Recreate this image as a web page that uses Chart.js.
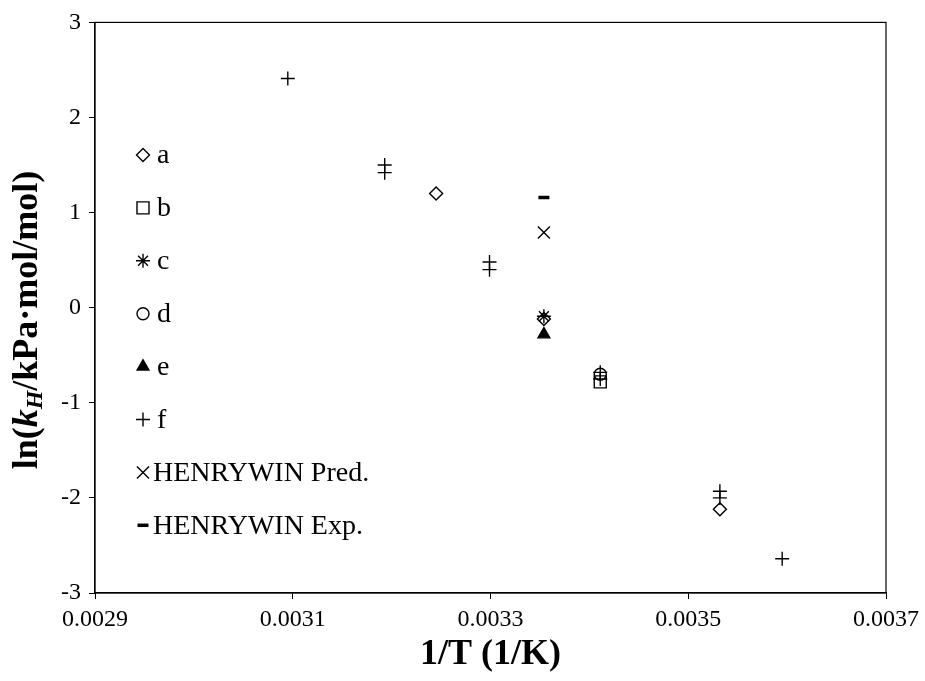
<!DOCTYPE html>
<html>
<head>
<meta charset="utf-8">
<script src="https://cdn.jsdelivr.net/npm/chart.js@4.4.1/dist/chart.umd.min.js"></script>
<style>
  html, body { margin: 0; padding: 0; background: #fff; }
  #wrap { width: 925px; height: 681px; }
</style>
</head>
<body>
<div id="wrap"><canvas id="c" width="925" height="681"></canvas></div>
<script>
// ---- data (1/T in 1/K, ln(kH)) ----
const xTicks = [0.0029, 0.0031, 0.0033, 0.0035, 0.0037];
const yTicks = [-3, -2, -1, 0, 1, 2, 3];

const aX = [0.003245, 0.003354, 0.003532];
const aY = [1.20, -0.12, -2.12];
const bX = [0.003411];
const bY = [-0.78];
const cX = [0.003354];
const cY = [-0.09];
const dX = [0.003411];
const dY = [-0.70];
const eX = [0.003354];
const eY = [-0.28];
const fX = [0.003095, 0.003193, 0.003193, 0.003299, 0.003299, 0.003411, 0.003411, 0.003532, 0.003532, 0.003595];
const fY = [2.41, 1.50, 1.42, 0.48, 0.40, -0.68, -0.75, -1.93, -2.00, -2.64];
const predX = [0.003354];
const predY = [0.79];
const expX = [0.003354];
const expY = [1.16];

const seriesLabels = ['a', 'b', 'c', 'd', 'e', 'f', 'HENRYWIN Pred.', 'HENRYWIN Exp.'];

function pts(xs, ys) { return xs.map((x, i) => ({ x: x, y: ys[i] })); }

const styles = [
  { pointStyle: 'rectRot', radius: 6.5, fill: 'rgba(0,0,0,0)', bw: 1.4 },
  { pointStyle: 'rect', radius: 8.5, fill: 'rgba(0,0,0,0)', bw: 1.4 },
  { pointStyle: 'star', radius: 7, fill: 'rgba(0,0,0,0)', bw: 1.4 },
  { pointStyle: 'circle', radius: 6, fill: 'rgba(0,0,0,0)', bw: 1.4 },
  { pointStyle: 'triangle', radius: 7, fill: '#000', bw: 1.2 },
  { pointStyle: 'cross', radius: 7, fill: 'rgba(0,0,0,0)', bw: 1.4 },
  { pointStyle: 'crossRot', radius: 8.5, fill: 'rgba(0,0,0,0)', bw: 1.4 },
  { pointStyle: 'line', radius: 5.5, fill: 'rgba(0,0,0,0)', bw: 3.5 }
];
const dataSets = [pts(aX, aY), pts(bX, bY), pts(cX, cY), pts(dX, dY), pts(eX, eY), pts(fX, fY), pts(predX, predY), pts(expX, expY)];

const datasets = dataSets.map((d, i) => ({
  label: seriesLabels[i],
  data: d,
  showLine: false,
  pointStyle: styles[i].pointStyle,
  pointRadius: styles[i].radius,
  pointHoverRadius: styles[i].radius,
  pointBackgroundColor: styles[i].fill,
  pointBorderColor: '#000',
  pointBorderWidth: styles[i].bw,
  borderColor: '#000',
  backgroundColor: styles[i].fill
}));

const SERIF = '"Liberation Serif", "Times New Roman", serif';

const decor = {
  id: 'decor',
  afterDraw(chart) {
    const ctx = chart.ctx;
    const a = chart.chartArea;
    ctx.save();
    // frame
    ctx.strokeStyle = '#000';
    ctx.lineWidth = 1.2;
    ctx.strokeRect(a.left, a.top, a.right - a.left, a.bottom - a.top);

    // legend
    const lx = 143, tx = 153, y0 = 155, dy = 52.9;
    ctx.font = '28px ' + SERIF;
    ctx.textBaseline = 'middle';
    ctx.textAlign = 'left';
    seriesLabels.forEach((lab, i) => {
      const y = y0 + i * dy;
      const s = styles[i];
      ctx.strokeStyle = '#000';
      ctx.fillStyle = s.fill;
      ctx.lineWidth = s.bw;
      Chart.helpers.drawPoint(ctx, { pointStyle: s.pointStyle, radius: s.radius, rotation: 0, borderWidth: s.bw }, lx, y);
      ctx.fillStyle = '#000';
      ctx.fillText(lab, tx + (i < 6 ? 4 : 0), y + 1);
    });

    // x title
    ctx.fillStyle = '#000';
    ctx.font = 'bold 36px ' + SERIF;
    ctx.textAlign = 'center';
    ctx.textBaseline = 'middle';
    ctx.fillText('1/T (1/K)', (a.left + a.right) / 2, 655);

    // y title with italic k and subscript H
    const segs = [
      { t: 'ln(', f: 'bold 36px ' + SERIF, dy: 0 },
      { t: 'k', f: 'bold italic 36px ' + SERIF, dy: 0 },
      { t: 'H', f: 'bold italic 24px ' + SERIF, dy: 8 },
      { t: '/kPa\u00B7mol/mol)', f: 'bold 36px ' + SERIF, dy: 0 }
    ];
    let total = 0;
    segs.forEach(s => { ctx.font = s.f; s.w = ctx.measureText(s.t).width; total += s.w; });
    ctx.translate(28, 320);
    ctx.rotate(-Math.PI / 2);
    ctx.textAlign = 'left';
    ctx.textBaseline = 'middle';
    let cx = -total / 2;
    segs.forEach(s => { ctx.font = s.f; ctx.fillText(s.t, cx, s.dy); cx += s.w; });
    ctx.restore();
  }
};

new Chart(document.getElementById('c'), {
  type: 'scatter',
  data: { datasets: datasets },
  options: {
    responsive: false,
    animation: false,
    events: [],
    layout: { padding: { top: 22, right: 35, left: 0, bottom: 0 } },
    plugins: { legend: { display: false }, tooltip: { enabled: false } },
    scales: {
      x: {
        type: 'linear',
        min: 0.0029, max: 0.0037,
        afterBuildTicks: s => { s.ticks = xTicks.map(v => ({ value: v })); },
        afterFit: s => { s.height = 88; },
        grid: { drawOnChartArea: false, drawTicks: true, tickLength: 6, color: '#000', lineWidth: 1 },
        border: { color: '#000', width: 1.2 },
        ticks: { color: '#000', font: { family: SERIF, size: 24 }, padding: 6, maxRotation: 0, autoSkip: false,
                 callback: v => Number(v).toFixed(4) }
      },
      y: {
        type: 'linear',
        min: -3, max: 3,
        afterBuildTicks: s => { s.ticks = yTicks.map(v => ({ value: v })); },
        afterFit: s => { s.width = 95; },
        grid: { drawOnChartArea: false, drawTicks: true, tickLength: 6, color: '#000', lineWidth: 1 },
        border: { color: '#000', width: 1.2 },
        ticks: { color: '#000', font: { family: SERIF, size: 24 }, padding: 8, autoSkip: false,
                 callback: v => String(v) }
      }
    }
  },
  plugins: [decor]
});
</script>
</body>
</html>
